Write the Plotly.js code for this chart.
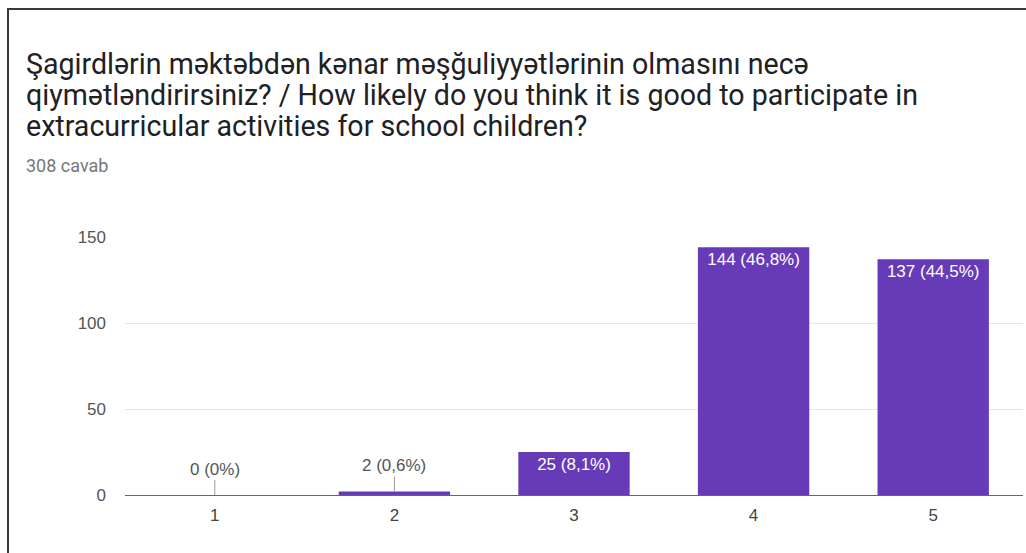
<!DOCTYPE html>
<html>
<head>
<meta charset="utf-8">
<script src="https://cdn.plot.ly/plotly-3.0.1.min.js"></script>
<style>
  html, body { margin: 0; padding: 0; background: #fff; }
  #wrap { position: relative; width: 1026px; height: 553px; overflow: hidden; }
  #chart { position: absolute; left: 0; top: 0; width: 1026px; height: 553px; }
  #frame { position: absolute; left: 7px; top: 8px; width: 1030px; height: 560px;
           border-top: 2px solid #3a3a3a; border-left: 2px solid #3a3a3a; pointer-events: none; }
</style>
</head>
<body>
<div id="wrap">
  <div id="chart"></div>
  <div id="frame"></div>
</div>
<script>
// Data
const categories = ['1', '2', '3', '4', '5'];
const counts = [0, 2, 25, 144, 137];
const percents = ['0%', '0,6%', '8,1%', '46,8%', '44,5%'];
const yTicks = [0, 50, 100, 150];
const titleLines = [
  'Şagirdlərin məktəbdən kənar məşğuliyyətlərinin olmasını necə',
  'qiymətləndirirsiniz? / How likely do you think it is good to participate in',
  'extracurricular activities for school children?'
];
const subtitleText = '308 cavab';

const purple = '#673ab7';
const chartFont = 'Liberation Sans, Arial, sans-serif';

// plot area geometry (pixels) used to place page-level texts
const W = 1026, H = 553;
const M = {l: 125, r: 3, t: 237, b: 58};
const plotW = W - M.l - M.r, plotH = H - M.t - M.b;
const px2x = px => (px - M.l) / plotW;
const py2y = py => (H - M.b - py) / plotH;

const labels = categories.map((c, i) => counts[i] + ' (' + percents[i] + ')');
const smallThreshold = 10;
const insideText = counts.map((v, i) => v >= smallThreshold ? labels[i] : '');

const annotations = [];
counts.forEach((v, i) => {
  if (v < smallThreshold) {
    annotations.push({
      x: i, y: v, xref: 'x', yref: 'y',
      text: labels[i], showarrow: true, arrowhead: 0, arrowwidth: 1,
      arrowcolor: '#9a9a9a', ax: 0, ay: -26, standoff: 0,
      font: {family: chartFont, size: 17, color: '#555'}
    });
  }
});
const titleCenters = [64, 95, 126];
titleLines.forEach((t, i) => {
  annotations.push({
    xref: 'paper', yref: 'paper', x: px2x(24), y: py2y(titleCenters[i]),
    xanchor: 'left', yanchor: 'middle', showarrow: false,
    text: t, font: {family: 'Roboto, sans-serif', size: 28.6, color: '#202124'}
  });
});
annotations.push({
  xref: 'paper', yref: 'paper', x: px2x(24), y: py2y(165),
  xanchor: 'left', yanchor: 'middle', showarrow: false,
  text: subtitleText, font: {family: 'Roboto, sans-serif', size: 18, color: '#777'}
});

const trace = {
  type: 'bar',
  x: categories,
  y: counts,
  marker: {color: purple},
  text: insideText,
  textposition: 'inside',
  insidetextanchor: 'end',
  textangle: 0,
  constraintext: 'none',
  textfont: {family: chartFont, size: 17, color: '#ffffff'},
  hoverinfo: 'none'
};

const layout = {
  width: W, height: H,
  margin: M,
  paper_bgcolor: '#ffffff', plot_bgcolor: '#ffffff',
  showlegend: false,
  bargap: 0.38,
  xaxis: {
    type: 'category',
    showgrid: false, showline: false, zeroline: false,
    ticks: '', ticklabelstandoff: 8,
    tickfont: {family: chartFont, size: 17, color: '#444'}
  },
  yaxis: {
    range: [0, 150],
    tickvals: yTicks,
    showgrid: true, gridcolor: '#e6e6e6', gridwidth: 1,
    zeroline: true, zerolinecolor: '#666', zerolinewidth: 1,
    showline: false, ticks: '', ticklabelstandoff: 18,
    tickfont: {family: chartFont, size: 17, color: '#555'}
  },
  annotations: annotations
};

Plotly.newPlot('chart', [trace], layout, {displayModeBar: false, staticPlot: true});
</script>
</body>
</html>
